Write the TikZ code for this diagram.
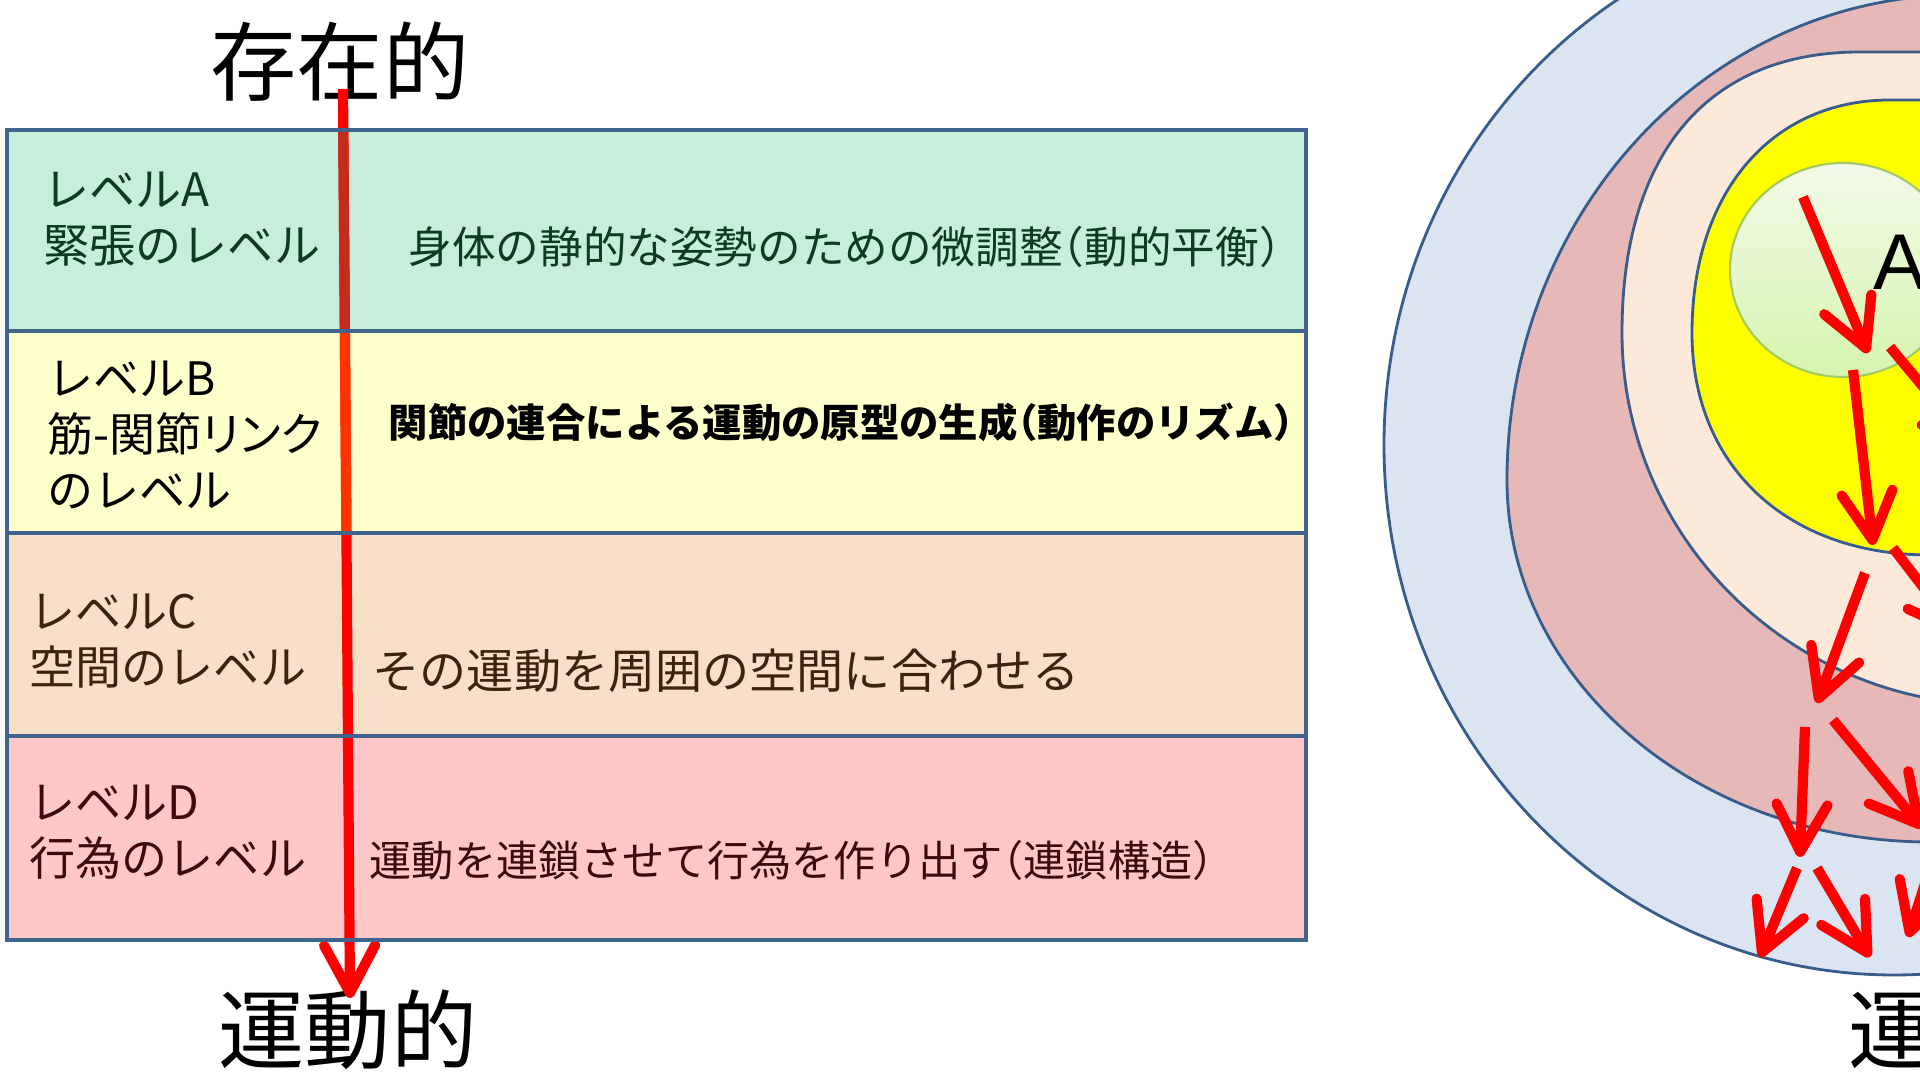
\documentclass[tikz,border=0pt]{standalone}
\usepackage{fontspec}
\setmainfont{Noto Sans CJK JP}[RawFeature=+halt]
\newfontfamily\latinfont{Liberation Sans}
\usetikzlibrary{arrows.meta}
\definecolor{rowA}{HTML}{C7EDDB}
\definecolor{rowB}{HTML}{FFFFCC}
\definecolor{rowC}{HTML}{F8E0C8}
\definecolor{rowD}{HTML}{FFC8C8}
\definecolor{gridblue}{HTML}{41648C}
\definecolor{ringblue}{HTML}{385D8A}
\definecolor{axisA}{HTML}{C42B1C}
\definecolor{axisB}{HTML}{FF3300}
\definecolor{txtA}{HTML}{0D3B1F}
\definecolor{txtC}{HTML}{3B230F}
\definecolor{txtD}{HTML}{3C0A0A}
\definecolor{ringD}{HTML}{DBE5F1}
\definecolor{ringC}{HTML}{E6B9B8}
\definecolor{ringB}{HTML}{FDE9D9}
\definecolor{ringA}{HTML}{FFFF00}
\definecolor{coreTop}{HTML}{F2FAE9}
\definecolor{coreBot}{HTML}{D6F5AE}
\definecolor{coreEdge}{HTML}{A6C864}

\begin{document}
\begin{tikzpicture}
			[x=0.01cm,y=-0.01cm,
			frame/.style={draw=gridblue,line width=1.2pt},
			ring/.style={draw=ringblue,line width=0.8pt},
			flow/.style={draw=red,line width=2.9pt,-{Straight Barb[length=13.5pt,width=14.5pt,round]}},
			big/.style={inner sep=0pt,font=\fontsize{24.5}{24.5}\selectfont},
			lvl/.style={anchor=west,inner sep=0pt,align=left,font=\fontsize{13.1}{15.9}\selectfont},
			desc/.style={anchor=west,inner sep=0pt}]
			\useasboundingbox (0,0) rectangle (1920,1080);
			\clip (0,0) rectangle (1920,1080);
			
			\foreach \c/\ya/\yb in {rowA/130/331,rowB/331/533,rowC/533/736,rowD/736/940}
			\fill[\c] (7,\ya) rectangle (1306,\yb);
			\draw[frame] (343,130) -- (347,940);
			
			\node[big] (sonzai) at (340,62) {存在的};
			\node[big] (undou) at (348,1030) {運動的};
			\coordinate (axtop) at (343,89);
			\coordinate (axtip) at (350,998);
			\draw[flow] (axtop) -- (axtip);
			\draw[axisA,line width=2.9pt] (343.3,132) -- (344.9,329);
			\draw[axisB,line width=2.9pt] (344.9,333) -- (346.4,531);
			
			\foreach \y in {331,533,736}
			\draw[frame] (7,\y) -- (1306,\y);
			\draw[frame] (7,130) rectangle (1306,940);
			
			\node[lvl,text=txtA] (labA) at (43,219) {レベルA\\緊張のレベル};
			\node[lvl] (labB) at (47,435) {レベルB\\{\addfontfeature{RawFeature=+palt}筋-関節リンク}\\のレベル};
			\node[lvl,text=txtC] (labC) at (29,641) {レベルC\\空間のレベル};
			\node[lvl,text=txtD] (labD) at (29,832) {レベルD\\行為のレベル};
			
			\node[desc,text=txtA,font=\fontsize{12.4}{14}\selectfont] (descA) at (408,247) {身体の静的な姿勢のための微調整（動的平衡）};
			\node[desc,font=\bfseries\fontsize{11.2}{14}\selectfont] (descB) at (388,422) {関節の連合による運動の原型の生成（動作のリズム）};
			\node[desc,text=txtC,font=\fontsize{13.4}{16}\selectfont] (descC) at (372,671) {その運動を周囲の空間に合わせる};
			\node[desc,text=txtD,font=\fontsize{12}{14}\selectfont] (descD) at (369,860) {運動を連鎖させて行為を作り出す（連鎖構造）};
			
			\filldraw[ring,fill=ringD] (1894,445) ellipse [x radius=510,y radius=530];
			\filldraw[ring,fill=ringC] (2300,-5) -- (1960,-5) .. controls (1710,-5) and (1507,212) .. (1507,480)
			.. controls (1507,680) and (1696,842) .. (1930,842) -- (2300,842) -- cycle;
			\filldraw[ring,fill=ringB] (2300,52) -- (1860,52) .. controls (1708,52) and (1622,153) .. (1622,333)
			.. controls (1622,538) and (1791,705) .. (2000,705) -- (2300,705) -- cycle;
			\filldraw[ring,fill=ringA] (2300,100) -- (1890,100) .. controls (1771,100) and (1692,193) .. (1692,333)
			.. controls (1692,466) and (1787,555) .. (1930,555) -- (2300,555) -- cycle;
			\shade[top color=coreTop,bottom color=coreBot,draw=coreEdge,line width=0.6pt] (1843,270) ellipse [x radius=113,y radius=107];
			\node[anchor=base west,inner sep=0pt,font=\latinfont\fontsize{22.5}{22.5}\selectfont] (coreA) at (1873,290) {A};
			\node[big,anchor=west] (undouR) at (1848,1030) {運動的};
			
			\coordinate (s1) at (1803,197);  \coordinate (t1) at (1868,353);
			\coordinate (s2) at (1890,347);  \coordinate (t2) at (1975,449);
			\coordinate (s3) at (1853,370);  \coordinate (t3) at (1873,545);
			\coordinate (s4) at (1893,548);  \coordinate (t4) at (1960,635);
			\coordinate (s5) at (1865,573);  \coordinate (t5) at (1817,703);
			\coordinate (s6) at (1805,727);  \coordinate (t6) at (1800,857);
			\coordinate (s7) at (1833,720);  \coordinate (t7) at (1922,828);
			\coordinate (s8) at (1797,868);  \coordinate (t8) at (1760,957);
			\coordinate (s9) at (1817,868);  \coordinate (t9) at (1870,957);
			\coordinate (s10) at (1932,862); \coordinate (t10) at (1908,937);
			
			\foreach \from/\to in {s1/t1,s2/t2,s3/t3,s4/t4,s5/t5,s6/t6,s7/t7,s8/t8,s9/t9,s10/t10}
			\draw[flow] (\from) -- (\to);
			\end{tikzpicture}
\end{document}
